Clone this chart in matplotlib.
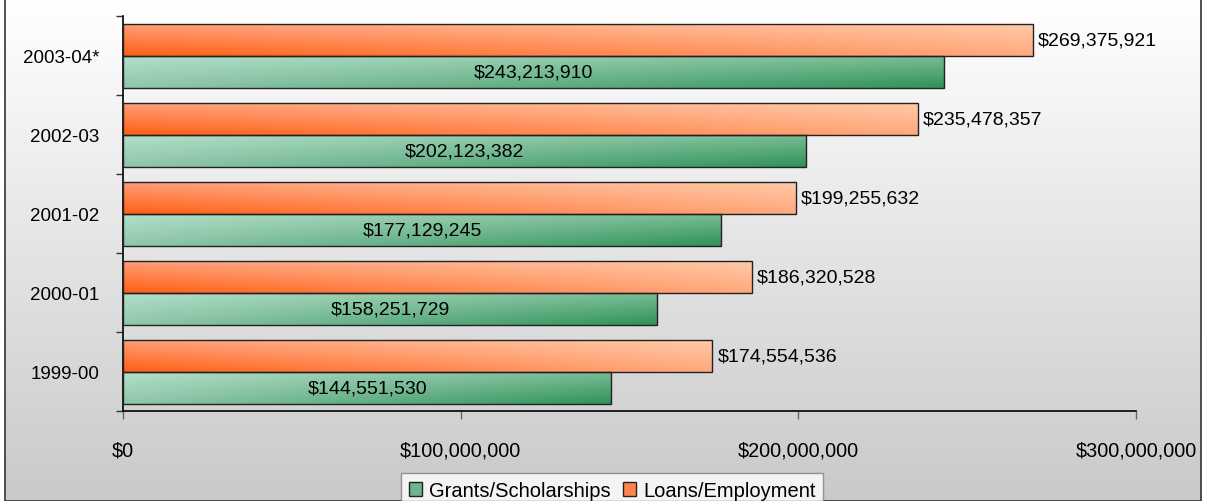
import matplotlib
matplotlib.use("Agg")
import matplotlib.pyplot as plt
import numpy as np
from matplotlib.patches import Rectangle, Patch
from matplotlib.ticker import FuncFormatter, FixedLocator

years = ['1999-00', '2000-01', '2001-02', '2002-03', '2003-04*']
grants = [144551530, 158251729, 177129245, 202123382, 243213910]
loans = [174554536, 186320528, 199255632, 235478357, 269375921]
xticks = [0, 100000000, 200000000, 300000000]

# corner colours: left-top, right-top, left-bottom, right-bottom
orange_corners = ['#ff9e78', '#ffcaa6', '#ff5f14', '#ffa87e']
green_corners = ['#b4dfca', '#79bc94', '#8fc7aa', '#2f9258']


def hex2rgb(h):
    return np.array([int(h[i:i + 2], 16) / 255.0 for i in (1, 3, 5)])


def gradient(corners, rows=40, cols=200):
    lt, rt, lb, rb = [hex2rgb(c) for c in corners]
    u = np.linspace(0, 1, cols)[None, :, None]
    v = np.linspace(0, 1, rows)[:, None, None]
    top = lt * (1 - u) + rt * u
    bot = lb * (1 - u) + rb * u
    return top * (1 - v) + bot * v


def fill_bars(ax, bars, corners):
    img = gradient(corners)
    for b in bars:
        x0, y0 = b.get_x(), b.get_y()
        w, h = b.get_width(), b.get_height()
        im = ax.imshow(img, extent=(x0, x0 + w, y0, y0 + h), aspect='auto',
                       origin='upper', zorder=2, interpolation='bilinear')
        im.set_clip_path(b)


def main():
    plt.rcParams['font.family'] = ['Liberation Sans', 'DejaVu Sans']
    fig = plt.figure(figsize=(12.05, 5.02), dpi=100)
    fig.patch.set_facecolor('white')

    # background gradient inside border
    bl, bb, br, bt = 5 / 1205, 0.0, 1201 / 1205, 1 - 3 / 502
    bg = fig.add_axes([bl, bb, br - bl, bt - bb], zorder=-10)
    grad = np.linspace(1.0, 0.79, 256)[:, None]
    bg.imshow(np.dstack([grad, grad, grad]), aspect='auto', extent=(0, 1, 0, 1))
    bg.set_axis_off()
    fig.patches.append(Rectangle((bl, bb), br - bl, bt - bb + 0.02, transform=fig.transFigure,
                                 fill=False, edgecolor='#333333', linewidth=1.2))

    ax = fig.add_axes([123 / 1205, 1 - 412 / 502, (1136 - 123) / 1205, (412 - 17) / 502])
    ax.patch.set_alpha(0)

    y = np.arange(len(years))
    h = 0.405
    gb = ax.barh(y - 0.205, grants, height=h, facecolor='none', edgecolor='#222222',
                 linewidth=1.0, zorder=3)
    lb = ax.barh(y + 0.195, loans, height=h, facecolor='none', edgecolor='#222222',
                 linewidth=1.0, zorder=3)
    fill_bars(ax, gb, green_corners)
    fill_bars(ax, lb, orange_corners)

    for b, v in zip(gb, grants):
        ax.text(b.get_x() + b.get_width() / 2, b.get_y() + b.get_height() / 2,
                '${:,.0f}'.format(v), ha='center', va='center', fontsize=14, zorder=4)
    for b, v in zip(lb, loans):
        ax.text(b.get_width() + 1.5e6, b.get_y() + b.get_height() / 2,
                '${:,.0f}'.format(v), ha='left', va='center', fontsize=14, zorder=4)

    ax.set_xlim(0, 300000000)
    ax.set_ylim(-0.5, len(years) - 0.5)
    ax.set_xticks(xticks)
    ax.xaxis.set_major_formatter(FuncFormatter(lambda v, p: '${:,.0f}'.format(v)))
    ax.set_yticks(y)
    ax.set_yticklabels(years)
    ax.yaxis.set_minor_locator(FixedLocator(np.arange(-0.5, len(years), 1.0)))
    ax.tick_params(axis='y', which='major', length=0, pad=17, labelsize=13.5)
    ax.tick_params(axis='y', which='minor', length=5, width=1, color='#333333', direction='out')
    ax.tick_params(axis='x', length=6, width=1, color='#666666', direction='out', pad=15, labelsize=14.3)

    for s in ['top', 'right']:
        ax.spines[s].set_visible(False)
    for s in ['left', 'bottom']:
        ax.spines[s].set_color('black')
        ax.spines[s].set_linewidth(1.2)

    handles = [Patch(facecolor='#6cb58c', edgecolor='#222222', label='Grants/Scholarships'),
               Patch(facecolor='#ff8450', edgecolor='#222222', label='Loans/Employment')]
    leg = fig.legend(handles=handles, loc='lower center', bbox_to_anchor=(0.508, -0.014),
                     ncol=2, fontsize=14.5, frameon=True, fancybox=False,
                     handlelength=0.65, handleheight=0.65, handletextpad=0.35,
                     columnspacing=0.6, borderpad=0.4, borderaxespad=0)
    leg.get_frame().set_edgecolor('#7f7f7f')
    leg.get_frame().set_facecolor('white')
    leg.get_frame().set_linewidth(1.0)

    fig.savefig('out.png', dpi=100)


if __name__ == "__main__":
    main()
